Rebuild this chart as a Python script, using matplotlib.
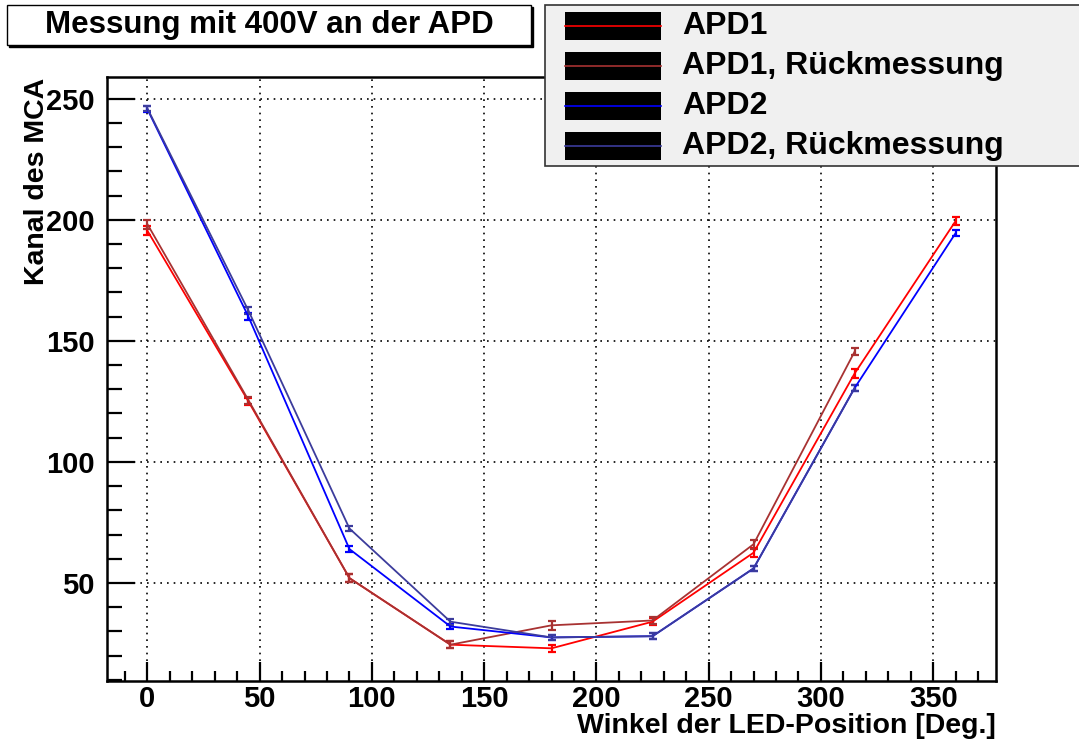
import matplotlib
matplotlib.use('Agg')
import matplotlib.pyplot as plt
from matplotlib.patches import Rectangle
from matplotlib.lines import Line2D
from matplotlib.ticker import MultipleLocator

plt.rcParams['font.family'] = ['Liberation Sans', 'DejaVu Sans']
plt.rcParams['font.weight'] = 'bold'

# data
angles = [0, 45, 90, 135, 180, 225, 270, 315, 360]
angles_back = [0, 45, 90, 135, 180, 225, 270, 315]

apd1 = [195.5, 125, 52, 24.5, 23, 34, 62.5, 136.5, 199.5]
apd1_err = [1.8, 1.5, 1.5, 1.5, 1.5, 1.5, 1.8, 1.8, 1.8]
apd1_back = [198.2, 125.5, 52, 24.5, 32.5, 34.5, 66, 145.5]
apd1_back_err = [1.8, 1.5, 1.5, 1.5, 1.8, 1.5, 1.8, 1.5]

apd2 = [245.7, 160, 64, 32, 27.5, 28, 56, 130.5, 194.5]
apd2_err = [1.2, 1.5, 1.2, 1.2, 1.2, 1.2, 1.2, 1.2, 1.2]
apd2_back = [246, 162.5, 72.5, 34, 27.5, 28, 56, 130.5]
apd2_back_err = [1.2, 1.5, 1.2, 1.2, 1.2, 1.2, 1.2, 1.2]

names = ['APD1', 'APD1, Rückmessung', 'APD2', 'APD2, Rückmessung']
colors = ['#ff0000', '#a83232', '#0000ff', '#3c3c9c']

W, H = 1079, 745
fig = plt.figure(figsize=(W / 100.0, H / 100.0), dpi=100)

def fx(x):
    return x / float(W)

def fy(y):
    return 1 - y / float(H)

ax = fig.add_axes([fx(107), fy(681), fx(996) - fx(107), fy(77) - fy(681)])

series = [(angles, apd1, apd1_err), (angles_back, apd1_back, apd1_back_err),
          (angles, apd2, apd2_err), (angles_back, apd2_back, apd2_back_err)]
for (xs, ys, es), c in zip(series, colors):
    ax.errorbar(xs, ys, yerr=es, color=c, lw=1.3, elinewidth=1.6,
                capsize=3, capthick=1.6)

ax.set_xlim(-18, 378)
ax.set_ylim(9.5, 259)
ax.xaxis.set_major_locator(MultipleLocator(50))
ax.xaxis.set_minor_locator(MultipleLocator(10))
ax.yaxis.set_major_locator(MultipleLocator(50))
ax.yaxis.set_minor_locator(MultipleLocator(10))
ax.grid(True, which='major', color='black', linestyle=(0, (1, 3)), lw=1.2)

ax.tick_params(which='both', direction='in', width=1.6, labelsize=21,
               top=False, right=False)
ax.tick_params(axis='y', which='major', length=20, pad=9)
ax.tick_params(axis='y', which='minor', length=11)
ax.tick_params(axis='x', which='major', length=14, pad=3)
ax.tick_params(axis='x', which='minor', length=7)
for lab in ax.get_xticklabels() + ax.get_yticklabels():
    lab.set_fontweight('bold')
for s in ax.spines.values():
    s.set_linewidth(1.8)

fig.text(fx(996), fy(726), 'Winkel der LED-Position [Deg.]', ha='right',
         va='center', fontsize=20.5, fontweight='bold')
fig.text(fx(37), fy(78), 'Kanal des MCA', ha='center', va='top',
         rotation=90, fontsize=20.5, fontweight='bold')

# title box with a thin shadow
fig.patches.append(Rectangle((fx(9), fy(47)), fx(524), fy(7) - fy(47),
                             transform=fig.transFigure, facecolor='black',
                             edgecolor='black', lw=1))
fig.patches.append(Rectangle((fx(7), fy(45)), fx(524), fy(5) - fy(45),
                             transform=fig.transFigure, facecolor='white',
                             edgecolor='black', lw=1))
fig.text(fx(269), fy(25), 'Messung mit 400V an der APD', ha='center',
         va='center', fontsize=22.5, fontweight='bold')

# legend box
fig.patches.append(Rectangle((fx(545), fy(166)), fx(560), fy(5) - fy(166),
                             transform=fig.transFigure, facecolor='#f0f0f0',
                             edgecolor='#333333', lw=1.2, zorder=5))
rows = [26, 66, 106, 146]
for yc, name, c in zip(rows, names, colors):
    fig.patches.append(Rectangle((fx(565), fy(yc + 14)), fx(96),
                                 fy(yc - 14) - fy(yc + 14),
                                 transform=fig.transFigure,
                                 facecolor='black', edgecolor='none',
                                 zorder=6))
    fig.lines.append(Line2D([fx(565), fx(661)], [fy(yc), fy(yc)],
                            transform=fig.transFigure, color=c, lw=1.2,
                            zorder=7))
    fig.text(fx(682), fy(yc), name, ha='left', va='center', fontsize=23,
             fontweight='bold', zorder=8)

fig.savefig('out.png', dpi=100)
